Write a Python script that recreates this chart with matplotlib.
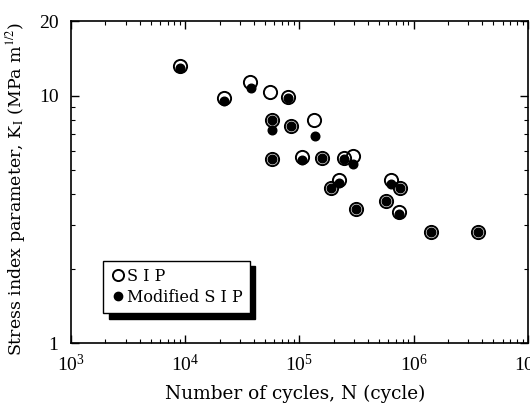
import numpy as np
import matplotlib.pyplot as plt
from matplotlib.ticker import LogLocator, FixedLocator, FixedFormatter, NullFormatter

plt.rcParams['font.family'] = ['Liberation Serif', 'DejaVu Serif']
plt.rcParams['mathtext.fontset'] = 'stix'

# SIP (open circles)
sip_n = [9.06e3, 2.18e4, 3.67e4, 5.48e4, 8.0e4, 5.71e4, 8.5e4, 1.35e5, 5.71e4, 1.06e5,
         1.58e5, 2.46e5, 2.95e5, 2.23e5, 1.90e5, 6.31e5, 7.56e5, 3.13e5, 5.71e5, 7.41e5,
         1.41e6, 3.67e6]
sip_k = [13.2, 9.8, 11.4, 10.3, 9.9, 7.99, 7.55, 7.99, 5.55, 5.65,
         5.6, 5.6, 5.7, 4.56, 4.23, 4.56, 4.23, 3.47, 3.74, 3.38,
         2.8, 2.8]

# Modified SIP (filled circles)
mod_n = [9.06e3, 2.18e4, 3.75e4, 8.0e4, 5.71e4, 5.71e4, 8.5e4, 1.38e5, 5.71e4, 1.06e5,
         1.58e5, 2.46e5, 2.95e5, 2.23e5, 1.90e5, 6.31e5, 7.56e5, 3.13e5, 5.71e5, 7.41e5,
         1.41e6, 3.67e6]
mod_k = [12.9, 9.55, 10.7, 9.8, 7.99, 7.28, 7.55, 6.88, 5.55, 5.5,
         5.6, 5.55, 5.29, 4.43, 4.23, 4.39, 4.23, 3.47, 3.74, 3.31,
         2.8, 2.8]

wide = ['DejaVu Serif']

fig = plt.figure(figsize=(5.30, 4.07), dpi=100)
ax = fig.add_axes([0.134, 0.157, 0.862, 0.791])

ax.plot(sip_n, sip_k, 'o', ms=9.5, mfc='none', mec='black', mew=1.4, label='S I P', zorder=3)
ax.plot(mod_n, mod_k, 'o', ms=6.2, mfc='black', mec='black', label='Modified S I P', zorder=4)

ax.set_xscale('log')
ax.set_yscale('log')
ax.set_xlim(1e3, 1e7)
ax.set_ylim(1, 20)

ax.xaxis.set_major_locator(LogLocator(base=10, numticks=10))
ax.xaxis.set_minor_locator(LogLocator(base=10, subs=np.arange(2, 10), numticks=20))
ax.xaxis.set_minor_formatter(NullFormatter())
ax.yaxis.set_major_locator(FixedLocator([1, 10, 20]))
ax.yaxis.set_major_formatter(FixedFormatter(['1', '10', '20']))
ax.yaxis.set_minor_locator(FixedLocator([2, 3, 4, 5, 6, 7, 8, 9]))
ax.yaxis.set_minor_formatter(NullFormatter())

ax.tick_params(which='both', direction='in', top=True, right=True, labelsize=14)
ax.tick_params(which='major', length=6, width=1)
ax.tick_params(which='minor', length=3, width=0.8)
ax.tick_params(axis='x', which='major', pad=8)
ax.tick_params(axis='y', which='major', pad=9)
for s in ax.spines.values():
    s.set_linewidth(1.2)

ax.set_xlabel('Number of cycles, N (cycle)', fontsize=13.3, family=wide)
ax.xaxis.set_label_coords(0.49, -0.13)
ax.set_ylabel(r'Stress index parameter, K$_\mathrm{I}$ (MPa m$^{1/2}$)', fontsize=12.5, family=wide)
ax.yaxis.set_label_coords(-0.095, 0.48)

leg = ax.legend(loc='lower left', bbox_to_anchor=(0.070, 0.093),
                prop={'family': wide, 'size': 11.5},
                frameon=True, fancybox=False, edgecolor='black',
                shadow={'color': 'black', 'alpha': 1, 'ox': 4, 'oy': -4},
                handletextpad=0.05, handlelength=1.0, borderpad=0.45,
                labelspacing=0.25, borderaxespad=0)
leg.get_frame().set_linewidth(1.0)
leg.legend_handles[0].set_markersize(8)
leg.legend_handles[1].set_markersize(6)

fig.savefig('out.png', dpi=100)
